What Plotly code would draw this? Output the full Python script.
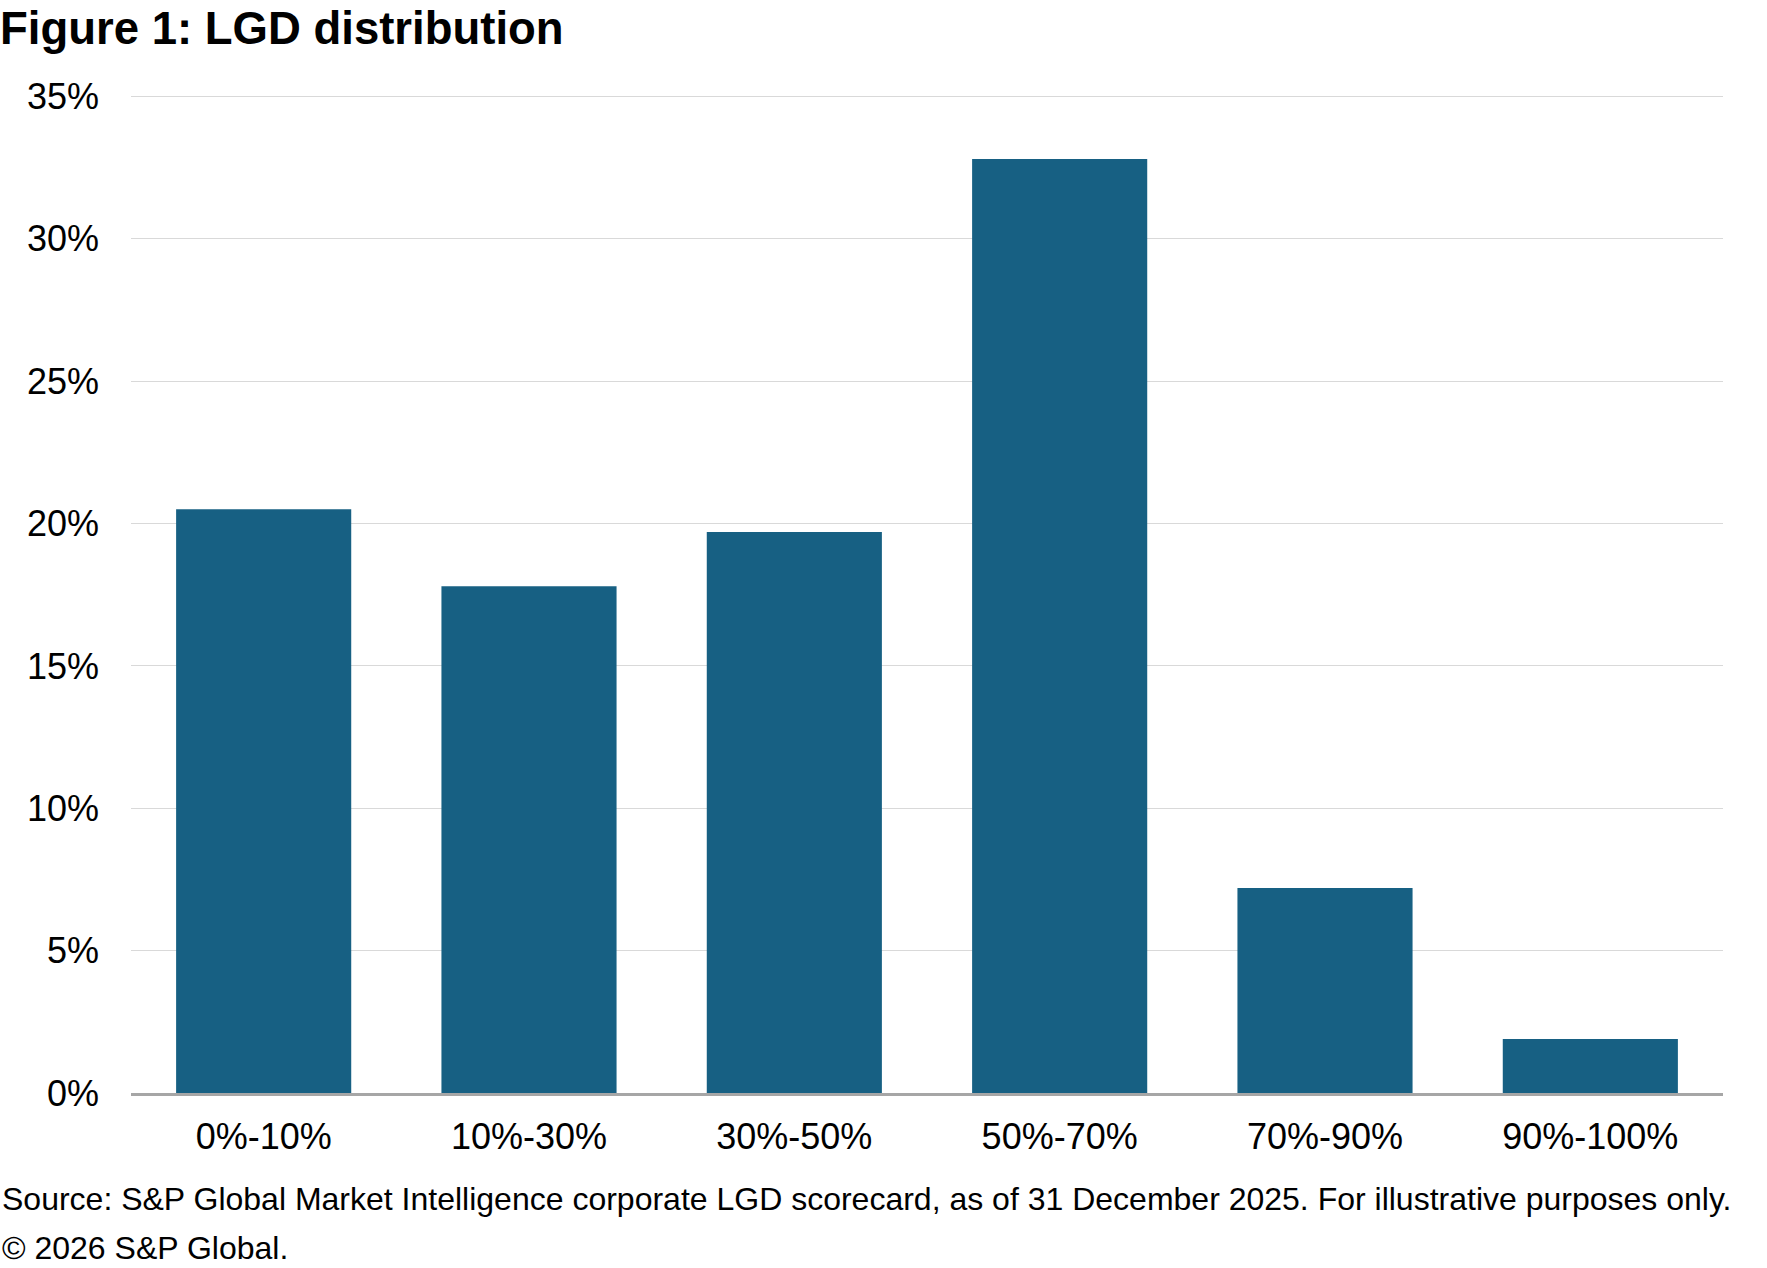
import plotly.graph_objects as go

categories = ["0%-10%", "10%-30%", "30%-50%", "50%-70%", "70%-90%", "90%-100%"]
shares = [20.5, 17.8, 19.7, 32.8, 7.2, 1.9]
y_tickvals = [0, 5, 10, 15, 20, 25, 30, 35]
y_ticktext = ["0%", "5%", "10%", "15%", "20%", "25%", "30%", "35%"]

title_text = "Figure 1: LGD distribution"
source_text = ("Source: S&P Global Market Intelligence corporate LGD scorecard, as of 31 December 2025. "
               "For illustrative purposes only.")
copyright_text = "© 2026 S&P Global."

FONT = "Liberation Sans, Arial, sans-serif"
W, H = 1767, 1268
ml, mr, mt, mb = 131, 44, 95, 175
pw = W - ml - mr
ph = H - mt - mb

fig = go.Figure(go.Bar(
    x=categories, y=shares,
    marker=dict(color="#176083", line=dict(width=0)),
    hoverinfo="x+y",
))

fig.update_layout(
    width=W, height=H,
    margin=dict(l=ml, r=mr, t=mt, b=mb),
    paper_bgcolor="white", plot_bgcolor="white",
    bargap=0.34,
    showlegend=False,
    font=dict(family=FONT, color="black", size=36),
    title=dict(text="<b>" + title_text + "</b>", x=0, xref="container", xanchor="left",
               y=1 - 28 / H, yref="container", yanchor="middle",
               font=dict(family=FONT, size=45.5, color="black")),
)
fig.update_yaxes(
    range=[0, 35.05], tickvals=y_tickvals, ticktext=y_ticktext,
    showgrid=True, gridcolor="#d9d9d9", gridwidth=1,
    zeroline=False, showline=False, ticks="",
    tickfont=dict(size=36, family=FONT, color="black"),
    ticklabelstandoff=31,
)
fig.update_xaxes(
    showline=True, linecolor="#a6a6a6", linewidth=3,
    ticks="", showgrid=False,
    tickfont=dict(size=36, family=FONT, color="black"),
    ticklabelstandoff=10,
)

fig.add_annotation(text=source_text, xref="paper", yref="paper",
                   x=-ml / pw, y=-(1199 - (H - mb)) / ph, xanchor="left", yanchor="middle",
                   showarrow=False, font=dict(family=FONT, size=32, color="black"))
fig.add_annotation(text=copyright_text, xref="paper", yref="paper",
                   x=-ml / pw, y=-(1248 - (H - mb)) / ph, xanchor="left", yanchor="middle",
                   showarrow=False, font=dict(family=FONT, size=32, color="black"))

fig.write_html("out.html", config={"displayModeBar": False},
               post_script="document.body.style.margin='0px';")
